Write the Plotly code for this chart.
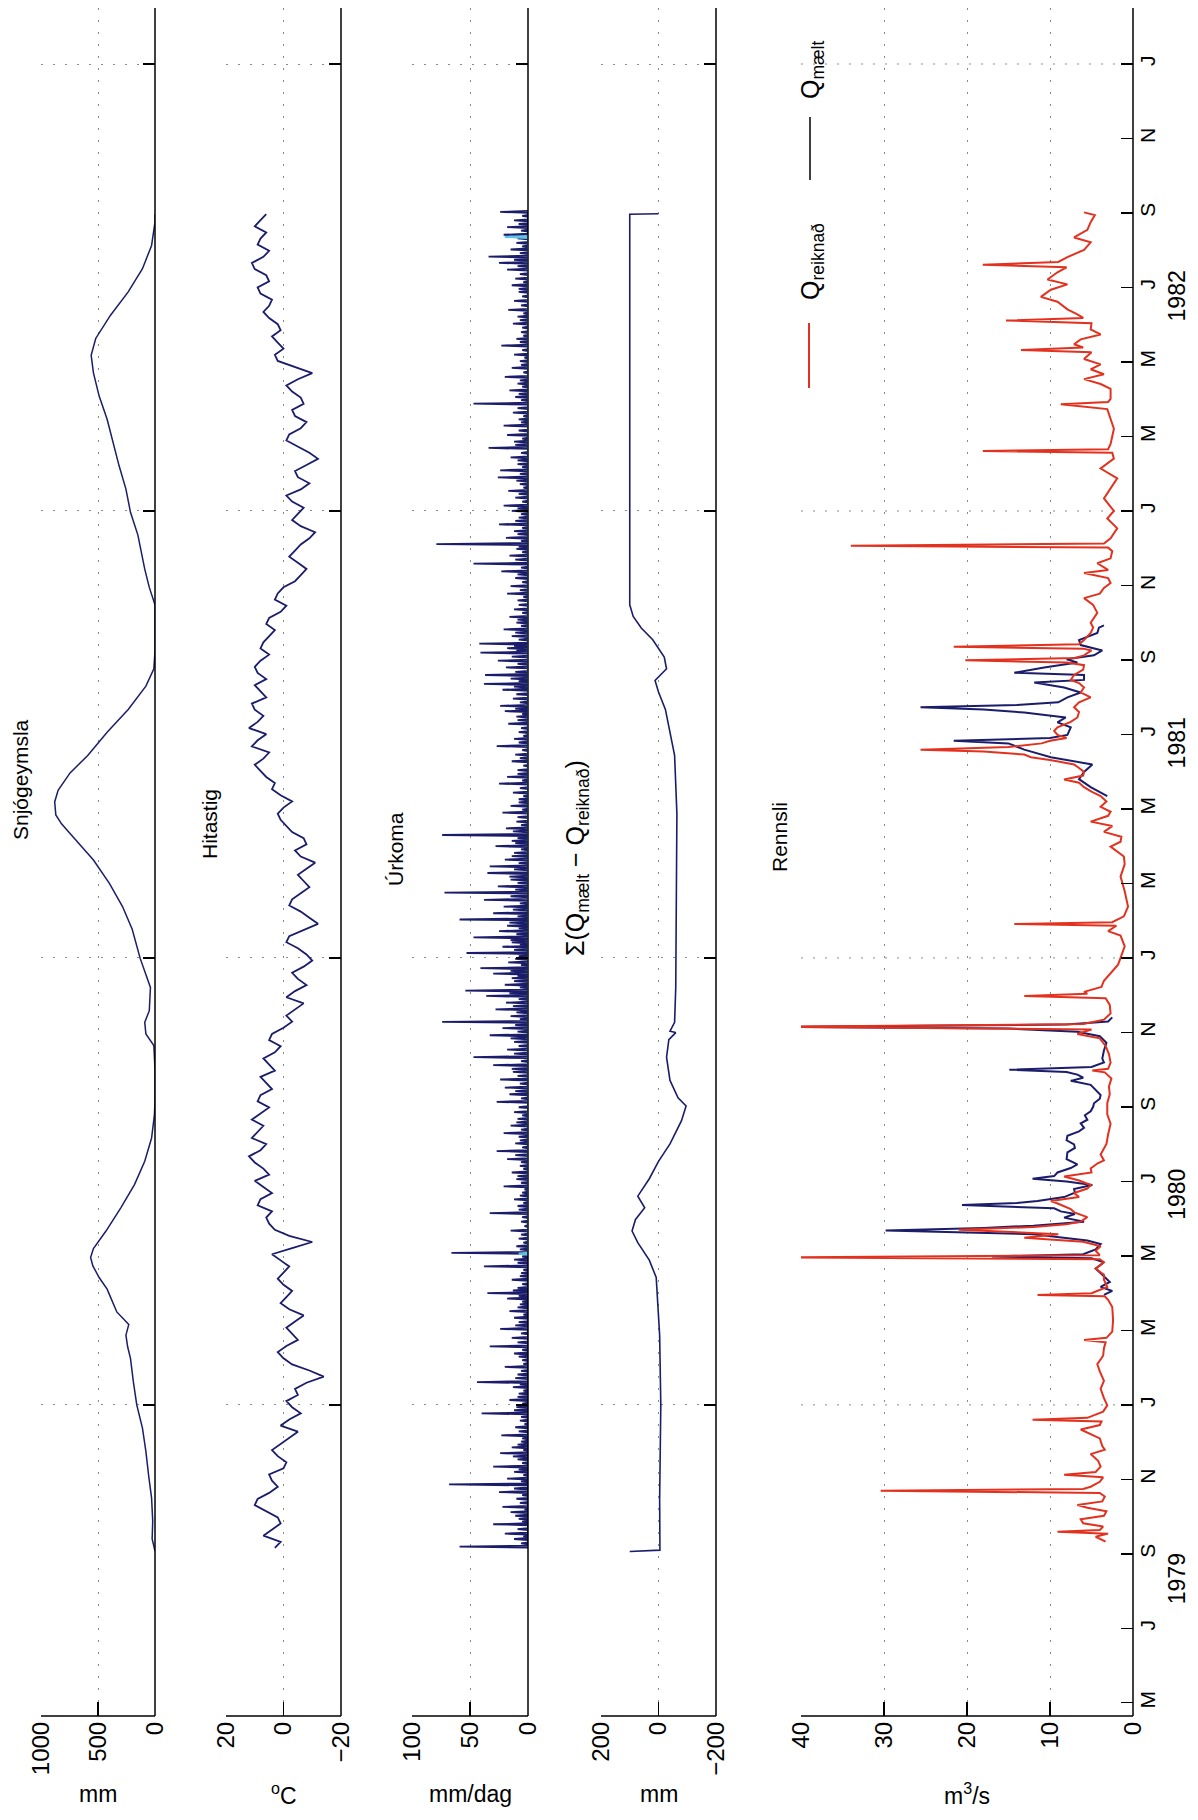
import plotly.graph_objects as go

# ---------------- data (time in decimal years) ----------------
SNOW_T = [1979.673, 1979.70, 1979.74, 1979.792, 1979.84, 1979.896, 1979.948, 1980.000, 1980.052, 1980.104,
          1980.130, 1980.156, 1980.180, 1980.208, 1980.235, 1980.259, 1980.285, 1980.311, 1980.330, 1980.350,
          1980.389, 1980.441, 1980.493, 1980.545, 1980.597, 1980.649, 1980.68, 1980.75, 1980.804, 1980.83,
          1980.856, 1980.882, 1980.934, 1980.999, 1981.064, 1981.115, 1981.167, 1981.219, 1981.271, 1981.300,
          1981.320, 1981.349, 1981.375, 1981.414, 1981.453, 1981.505, 1981.556, 1981.608, 1981.647, 1981.686,
          1981.790, 1981.829, 1981.870, 1981.894, 1981.946, 1981.997, 1982.049, 1982.101, 1982.153, 1982.205,
          1982.257, 1982.309, 1982.348, 1982.386, 1982.438, 1982.490, 1982.542, 1982.594, 1982.646, 1982.664]
SNOW_MM = [0, 25, 20, 30, 55, 80, 110, 160, 190, 215,
           240, 255, 230, 335, 380, 420, 490, 545, 565, 540,
           430, 300, 180, 90, 30, 5, 0, 0, 10, 80,
           90, 50, 40, 130, 200, 285, 400, 540, 720, 820,
           870, 880, 850, 745, 590, 420, 235, 80, 10, 0,
           0, 50, 90, 110, 150, 215, 255, 315, 370, 420,
           490, 540, 560, 520, 390, 235, 110, 30, 0, 0]

TEMP_START = 1979.68
TEMP_STEP = 5 / 365.25
TEMP_C = [3, 1, 7, 4, 1, 2, 6, 10, 9, 5, 2, 4, 5, 0, -1, 2, 4, 1,
          -2, -5, 1, -2, -6, -3, -1, -5, -4, -8, -14, -9, -3, 0, 2, -1, -5, -3, -1, -4, -7, -2, 1, -1, -3, 0,
          2, 0, -2, 1, 4, -3, -10, -2, 3, 5,
          6, 4, 9, 8, 4, 7, 10, 5, 7, 10, 12, 8, 6, 11, 9, 7, 11, 8, 5, 9, 8, 4,
          6, 8, 3, 5, 7, 3, 1, 5, 4, 0, -3, -1,
          -4, -7, -1, -4, -8, -5, -3, -7, -10, -8, -5, -1, -2, -7, -12, -9, -6, -2, -3, -6, -9, -7, -5, -8,
          -11, -6, -4, -8,
          -7, -3, -1, 1, 2, 0, -3, 1, 4, 3,
          6, 8, 10, 7, 5, 11, 9, 6, 12, 9, 7, 10, 11, 6, 8, 10, 6, 9, 10, 8, 5, 8,
          7, 5, 3, 6, 5, 1, -1, 3, 2, 0,
          -4, -6, -8, -5, -2, -4, -6, -9, -11, -6, -3, -5, -7, -3, -1, -6, -9, -5, -4, -8, -12, -9, -5, -1,
          -2, -6, -8, -4, -3, -7, -6, -3,
          -1, -5, -10, -4, 2, 3, 0, 2, 4, 1, 2, 5,
          7, 5, 4, 8, 9, 5, 6, 10, 11, 7, 5, 9, 8, 6, 10, 8, 6]

PRECIP_T = [1979.683, 1979.700, 1979.712, 1979.733, 1979.745, 1979.760, 1979.772, 1979.790, 1979.805, 1979.822,
            1979.835, 1979.850, 1979.862, 1979.878, 1979.892, 1979.905, 1979.918, 1979.932, 1979.950, 1979.965,
            1979.981, 1979.995, 1980.011, 1980.025, 1980.040, 1980.051, 1980.068, 1980.085, 1980.100, 1980.115,
            1980.131, 1980.150, 1980.170, 1980.185, 1980.195, 1980.210, 1980.225, 1980.238, 1980.250, 1980.262,
            1980.280, 1980.295, 1980.310, 1980.325, 1980.340, 1980.355, 1980.372, 1980.390, 1980.410, 1980.429,
            1980.445, 1980.460, 1980.475, 1980.489, 1980.505, 1980.520, 1980.535, 1980.550, 1980.568, 1980.585,
            1980.600, 1980.608, 1980.625, 1980.640, 1980.655, 1980.678, 1980.695, 1980.710, 1980.728, 1980.745,
            1980.760, 1980.778, 1980.795, 1980.812, 1980.827, 1980.843, 1980.857, 1980.870, 1980.885, 1980.900,
            1980.915, 1980.927, 1980.940, 1980.955, 1980.965, 1980.977, 1980.990, 1981.011, 1981.025, 1981.035,
            1981.046, 1981.060, 1981.072, 1981.086, 1981.100, 1981.115, 1981.130, 1981.146, 1981.160, 1981.175,
            1981.190, 1981.205, 1981.220, 1981.235, 1981.250, 1981.262, 1981.275, 1981.290, 1981.305, 1981.325,
            1981.340, 1981.355, 1981.370, 1981.390, 1981.405, 1981.420, 1981.440, 1981.455, 1981.474, 1981.490,
            1981.505, 1981.524, 1981.540, 1981.552, 1981.564, 1981.580, 1981.600, 1981.613, 1981.625, 1981.633,
            1981.650, 1981.665, 1981.683, 1981.693, 1981.703, 1981.720, 1981.735, 1981.750, 1981.763, 1981.780,
            1981.800, 1981.815, 1981.832, 1981.850, 1981.865, 1981.882, 1981.900, 1981.915, 1981.926, 1981.940,
            1981.955, 1981.970, 1981.985, 1982.000, 1982.012, 1982.030, 1982.045, 1982.060, 1982.075, 1982.091,
            1982.105, 1982.120, 1982.141, 1982.155, 1982.170, 1982.191, 1982.205, 1982.220, 1982.240, 1982.255,
            1982.270, 1982.285, 1982.300, 1982.320, 1982.335, 1982.350, 1982.370, 1982.385, 1982.400, 1982.419,
            1982.435, 1982.450, 1982.470, 1982.490, 1982.505, 1982.520, 1982.540, 1982.555, 1982.569, 1982.585,
            1982.600, 1982.618, 1982.635, 1982.650, 1982.669]
PRECIP_MM = [59, 12, 20, 30, 8, 15, 22, 10, 25, 68,
             18, 12, 30, 9, 24, 14, 6, 23, 11, 7,
             40, 10, 16, 8, 13, 44, 9, 20, 5, 12,
             33, 14, 24, 8, 12, 16, 7, 18, 35, 9,
             14, 6, 38, 12, 66, 10, 8, 15, 6, 33,
             9, 12, 5, 21, 10, 14, 7, 18, 27, 11,
             8, 21, 15, 9, 12, 27, 16, 20, 24, 13,
             30, 47, 18, 12, 33, 22, 74, 15, 28, 19,
             36, 54, 20, 14, 30, 41, 17, 53, 22, 14,
             47, 25, 18, 59, 30, 21, 38, 72, 26, 15,
             35, 33, 20, 12, 28, 14, 74, 19, 10, 22,
             15, 8, 13, 25, 18, 9, 14, 11, 27, 12,
             8, 17, 10, 20, 24, 13, 22, 38, 15, 37,
             19, 26, 41, 18, 42, 14, 21, 10, 16, 12,
             9, 18, 15, 11, 23, 47, 16, 10, 79, 19,
             12, 25, 8, 14, 21, 11, 17, 7, 26, 24,
             9, 15, 34, 12, 18, 21, 8, 13, 47, 11,
             16, 9, 20, 14, 7, 12, 23, 10, 6, 13,
             9, 17, 12, 8, 14, 11, 18, 25, 34, 15,
             10, 21, 18, 12, 24]
# smaller rain days between the larger events
PRECIP_SMALL_T = [1979.690, 1979.706, 1979.722, 1979.739, 1979.752, 1979.766, 1979.781, 1979.798, 1979.813, 1979.829,
                  1979.843, 1979.856, 1979.870, 1979.885, 1979.899, 1979.911, 1979.925, 1979.941, 1979.957, 1979.973,
                  1979.988, 1980.003, 1980.018, 1980.032, 1980.046, 1980.060, 1980.076, 1980.092, 1980.108, 1980.123,
                  1980.140, 1980.160, 1980.178, 1980.202, 1980.218, 1980.231, 1980.244, 1980.256, 1980.270, 1980.288,
                  1980.302, 1980.318, 1980.332, 1980.348, 1980.363, 1980.381, 1980.400, 1980.420, 1980.437, 1980.452,
                  1980.468, 1980.482, 1980.497, 1980.512, 1980.528, 1980.543, 1980.559, 1980.576, 1980.592, 1980.616,
                  1980.632, 1980.648, 1980.666, 1980.686, 1980.702, 1980.719, 1980.736, 1980.752, 1980.769, 1980.786,
                  1980.803, 1980.820, 1980.835, 1980.850, 1980.863, 1980.878, 1980.892, 1980.908, 1980.921, 1980.934,
                  1980.948, 1980.960, 1980.971, 1980.984, 1980.998, 1981.004, 1981.018, 1981.030, 1981.040, 1981.053,
                  1981.066, 1981.079, 1981.093, 1981.108, 1981.122, 1981.138, 1981.153, 1981.168, 1981.182, 1981.198,
                  1981.212, 1981.228, 1981.243, 1981.257, 1981.268, 1981.283, 1981.297, 1981.315, 1981.332, 1981.348,
                  1981.362, 1981.380, 1981.397, 1981.412, 1981.430, 1981.447, 1981.465, 1981.482, 1981.497, 1981.514,
                  1981.532, 1981.546, 1981.558, 1981.572, 1981.590, 1981.607, 1981.619, 1981.640, 1981.658, 1981.674,
                  1981.688, 1981.698, 1981.712, 1981.728, 1981.743, 1981.757, 1981.772, 1981.790, 1981.808, 1981.823,
                  1981.841, 1981.858, 1981.873, 1981.891, 1981.908, 1981.920, 1981.933, 1981.948, 1981.962, 1981.978,
                  1981.993, 1982.006, 1982.021, 1982.038, 1982.052, 1982.068, 1982.083, 1982.098, 1982.113, 1982.130,
                  1982.148, 1982.162, 1982.180, 1982.198, 1982.212, 1982.230, 1982.248, 1982.262, 1982.278, 1982.292,
                  1982.310, 1982.327, 1982.343, 1982.360, 1982.378, 1982.392, 1982.410, 1982.427, 1982.442, 1982.460,
                  1982.480, 1982.497, 1982.512, 1982.530, 1982.548, 1982.562, 1982.577, 1982.592, 1982.610, 1982.627,
                  1982.642, 1982.660]
PRECIP_SMALL_MM = [6, 4, 9, 5, 11, 3, 7, 5, 12, 6,
                   4, 8, 5, 13, 4, 9, 5, 8, 3, 6,
                   12, 5, 9, 4, 7, 11, 6, 4, 8, 5,
                   9, 6, 11, 4, 9, 5, 8, 13, 5, 7,
                   4, 9, 5, 7, 4, 6, 3, 5, 8, 4,
                   7, 3, 6, 9, 4, 6, 11, 5, 7, 6,
                   10, 5, 8, 6, 11, 7, 9, 14, 6, 12,
                   8, 15, 9, 11, 7, 10, 13, 8, 16, 7,
                   12, 9, 15, 6, 11, 8, 12, 7, 15, 10,
                   8, 16, 9, 13, 7, 15, 11, 9, 16, 12,
                   8, 14, 6, 11, 9, 13, 6, 9, 5, 8,
                   4, 7, 5, 9, 4, 7, 5, 8, 4, 6,
                   9, 5, 11, 7, 10, 12, 8, 11, 9, 14,
                   10, 12, 8, 11, 6, 9, 5, 8, 4, 7,
                   5, 9, 6, 11, 5, 8, 6, 9, 5, 11,
                   6, 9, 5, 8, 4, 10, 7, 5, 9, 6,
                   11, 5, 8, 6, 4, 9, 6, 8, 5, 7,
                   4, 6, 3, 5, 7, 4, 5, 7, 4, 6,
                   5, 8, 4, 7, 9, 12, 7, 5, 9, 6,
                   8, 5]
PRECIP_CYAN_T = [1982.613, 1980.338]
PRECIP_CYAN_MM = [20, 8]

CUM_T = [1979.672, 1979.675, 1979.79, 1980.000, 1980.156, 1980.285, 1980.324, 1980.363, 1980.389, 1980.415,
         1980.441, 1980.467, 1980.506, 1980.545, 1980.584, 1980.636, 1980.669, 1980.687, 1980.726, 1980.778,
         1980.817, 1980.833, 1980.836, 1980.856, 1980.934, 1981.323, 1981.453, 1981.505, 1981.556, 1981.595,
         1981.621, 1981.647, 1981.673, 1981.712, 1981.738, 1981.764, 1981.790, 1982.664, 1982.665]
CUM_MM = [100, -5, -4, -8, -4, 8, 32, 72, 92, 80,
          48, 72, 32, 0, -40, -80, -96, -68, -40, -28,
          -36, -60, -40, -56, -60, -64, -56, -40, -24, 0,
          12, -28, -20, 20, 60, 88, 100, 100, 0]

QCALC_T = [1979.694, 1979.705, 1979.712, 1979.716, 1979.720, 1979.728, 1979.735, 1979.744, 1979.752, 1979.762,
           1979.770, 1979.776, 1979.784, 1979.795, 1979.803, 1979.808, 1979.812, 1979.817, 1979.828, 1979.838,
           1979.844, 1979.850, 1979.862, 1979.875, 1979.890, 1979.900, 1979.908, 1979.925, 1979.945, 1979.955,
           1979.963, 1979.967, 1979.971, 1979.985, 1979.999, 1980.015, 1980.036, 1980.054, 1980.075, 1980.091,
           1980.110, 1980.127, 1980.140, 1980.145, 1980.150, 1980.164, 1980.190, 1980.219, 1980.235, 1980.243,
           1980.246, 1980.250, 1980.264, 1980.280, 1980.291, 1980.305, 1980.319, 1980.326, 1980.330, 1980.335,
           1980.345, 1980.355, 1980.365, 1980.374, 1980.382, 1980.392, 1980.398, 1980.404, 1980.410, 1980.420,
           1980.430, 1980.438, 1980.450, 1980.456, 1980.465, 1980.474, 1980.484, 1980.492, 1980.502, 1980.511,
           1980.520, 1980.529, 1980.540, 1980.547, 1980.560, 1980.584, 1980.605, 1980.629, 1980.650, 1980.675,
           1980.695, 1980.712, 1980.730, 1980.744, 1980.748, 1980.752, 1980.766, 1980.785, 1980.803, 1980.820,
           1980.830, 1980.840, 1980.846, 1980.852, 1980.862, 1980.876, 1980.895, 1980.910, 1980.915, 1980.920,
           1980.924, 1980.935, 1980.949, 1980.970, 1980.985, 1981.000, 1981.026, 1981.050, 1981.060, 1981.072,
           1981.076, 1981.080, 1981.093, 1981.115, 1981.149, 1981.182, 1981.210, 1981.227, 1981.249, 1981.260,
           1981.271, 1981.282, 1981.295, 1981.305, 1981.318, 1981.327, 1981.338, 1981.350, 1981.362, 1981.372,
           1981.382, 1981.392, 1981.399, 1981.408, 1981.416, 1981.425, 1981.433, 1981.443, 1981.449, 1981.455,
           1981.462, 1981.466, 1981.472, 1981.480, 1981.486, 1981.492, 1981.499, 1981.508, 1981.516, 1981.528,
           1981.538, 1981.550, 1981.561, 1981.572, 1981.583, 1981.594, 1981.605, 1981.615, 1981.622, 1981.633,
           1981.645, 1981.655, 1981.661, 1981.666, 1981.671, 1981.677, 1981.688, 1981.692, 1981.696, 1981.702,
           1981.711, 1981.727, 1981.739, 1981.750, 1981.772, 1981.790, 1981.805, 1981.815, 1981.828, 1981.839,
           1981.850, 1981.861, 1981.868, 1981.883, 1981.894, 1981.910, 1981.918, 1981.922, 1981.927, 1981.939,
           1981.961, 1981.983, 1982.000, 1982.028, 1982.050, 1982.073, 1982.095, 1982.117, 1982.130, 1982.134,
           1982.138, 1982.150, 1982.184, 1982.206, 1982.228, 1982.239, 1982.244, 1982.251, 1982.273, 1982.284,
           1982.295, 1982.306, 1982.317, 1982.328, 1982.340, 1982.355, 1982.360, 1982.366, 1982.373, 1982.384,
           1982.395, 1982.406, 1982.420, 1982.426, 1982.432, 1982.440, 1982.451, 1982.468, 1982.479, 1982.495,
           1982.507, 1982.518, 1982.534, 1982.545, 1982.551, 1982.557, 1982.568, 1982.584, 1982.601, 1982.612,
           1982.629, 1982.646, 1982.662, 1982.668]
QCALC = [3.3, 4.5, 3.0, 9.1, 4.0, 3.6, 6.0, 6.3, 3.5, 3.2,
         5.5, 6.7, 3.7, 3.4, 4.0, 30.4, 6.0, 5.1, 4.0, 3.6,
         8.3, 4.5, 3.9, 4.2, 5.1, 3.4, 3.7, 4.0, 6.3, 4.0,
         3.8, 12.1, 5.5, 3.6, 3.1, 3.5, 3.9, 3.5, 4.0, 4.3,
         3.6, 3.5, 3.3, 5.9, 3.2, 2.5, 2.4, 2.5, 3.0, 3.4,
         11.5, 5.0, 3.1, 3.5, 3.5, 4.5, 3.5, 4.0, 42.0, 4.0,
         4.5, 3.9, 6.0, 13.1, 9.0, 21.0, 12.0, 8.0, 6.3, 5.5,
         7.0, 7.5, 9.0, 9.9, 6.5, 7.1, 5.5, 5.1, 6.5, 8.3,
         5.0, 5.1, 4.3, 3.5, 3.9, 3.2, 3.0, 2.7, 3.1, 3.1,
         2.8, 2.9, 2.6, 3.4, 4.9, 3.0, 2.7, 2.9, 3.3, 4.0,
         6.7, 5.0, 42.0, 6.0, 3.5, 2.7, 2.8, 3.3, 13.1, 5.5,
         5.9, 3.8, 3.5, 2.5, 1.8, 1.5, 1.0, 1.5, 3.0, 2.0,
         14.3, 2.5, 1.1, 0.6, 1.0, 1.5, 1.0, 1.1, 2.7, 1.5,
         1.4, 3.5, 2.5, 5.1, 3.0, 2.7, 3.9, 3.2, 3.9, 5.0,
         5.9, 6.5, 8.3, 6.0, 5.9, 6.5, 7.1, 10.0, 12.3, 13.1,
         18.0, 25.6, 15.0, 11.0, 10.0, 8.0, 9.1, 9.5, 9.1, 7.5,
         6.7, 6.5, 7.1, 6.5, 5.1, 6.3, 5.9, 6.5, 7.5, 7.1,
         6.0, 5.9, 8.0, 20.2, 7.0, 5.9, 5.0, 6.0, 21.6, 6.5,
         5.9, 5.1, 4.8, 5.1, 4.3, 4.8, 5.9, 4.0, 3.5, 2.7,
         3.0, 5.9, 3.0, 4.3, 2.7, 2.5, 3.0, 34.0, 3.5, 2.7,
         1.9, 3.1, 2.3, 3.5, 2.7, 1.9, 3.9, 2.3, 2.5, 18.1,
         3.0, 2.7, 2.3, 2.7, 3.1, 8.7, 3.0, 2.7, 2.7, 3.9,
         5.9, 3.5, 5.1, 3.9, 5.9, 5.0, 13.5, 6.0, 7.1, 6.3,
         3.9, 5.1, 5.0, 15.3, 6.0, 6.7, 7.9, 9.1, 11.1, 9.9,
         7.9, 10.3, 9.1, 8.0, 18.1, 9.0, 7.9, 5.9, 5.1, 7.1,
         5.5, 5.1, 4.6, 5.9]

QMEAS_T = [1980.246, 1980.255, 1980.264, 1980.275, 1980.291, 1980.305, 1980.319, 1980.328, 1980.332, 1980.337,
           1980.348, 1980.360, 1980.368, 1980.375, 1980.382, 1980.390, 1980.396, 1980.401, 1980.410, 1980.419,
           1980.427, 1980.433, 1980.440, 1980.447, 1980.452, 1980.456, 1980.465, 1980.475, 1980.483, 1980.492,
           1980.500, 1980.506, 1980.512, 1980.520, 1980.530, 1980.538, 1980.550, 1980.565, 1980.575, 1980.583,
           1980.592, 1980.602, 1980.612, 1980.620, 1980.630, 1980.638, 1980.648, 1980.657, 1980.667, 1980.675,
           1980.685, 1980.693, 1980.705, 1980.716, 1980.725, 1980.732, 1980.739, 1980.745, 1980.750, 1980.756,
           1980.766, 1980.775, 1980.793, 1980.810, 1980.825, 1980.835, 1980.842, 1980.846, 1980.851, 1980.858,
           1980.867, None,
           1981.362, 1981.382, 1981.400, 1981.416, 1981.433, 1981.449, 1981.466, 1981.480, 1981.486, 1981.492,
           1981.499, 1981.516, 1981.527, 1981.538, 1981.549, 1981.556, 1981.561, 1981.566, 1981.572, 1981.583,
           1981.594, 1981.605, 1981.616, 1981.622, 1981.633, 1981.638, 1981.650, 1981.661, 1981.668, 1981.677,
           1981.688, 1981.700, 1981.711, 1981.727, 1981.739, 1981.744]
QMEAS = [3.5, 2.5, 3.9, 2.8, 3.7, 4.5, 3.5, 5.0, 17.0, 6.0,
         4.5, 3.9, 5.5, 8.7, 12.0, 29.8, 18.0, 12.0, 5.9, 8.3,
         7.0, 8.7, 9.5, 20.6, 14.0, 11.5, 8.3, 7.0, 7.1, 4.9,
         8.0, 12.1, 9.5, 9.1, 7.5, 6.7, 8.0, 7.9, 7.0, 7.1,
         8.0, 7.9, 6.5, 5.9, 6.3, 5.5, 5.8, 5.1, 4.8, 4.7,
         4.0, 3.9, 4.5, 5.1, 7.5, 6.0, 6.7, 8.0, 14.9, 5.0,
         3.5, 3.7, 3.5, 3.2, 4.0, 6.7, 15.0, 42.0, 8.0, 3.0,
         2.5, None,
         3.1, 5.1, 6.5, 5.9, 4.9, 9.9, 13.1, 15.0, 21.6, 10.0,
         7.9, 7.5, 9.1, 8.1, 13.1, 18.0, 25.6, 14.0, 9.0, 7.9,
         6.3, 8.3, 11.9, 5.9, 5.9, 14.3, 10.7, 6.7, 8.0, 4.7,
         3.7, 6.3, 6.5, 4.3, 4.1, 3.5]

MONTH_TICKS = [(1979, 5, "M"), (1979, 7, "J"), (1979, 9, "S"), (1979, 11, "N"),
               (1980, 1, "J"), (1980, 3, "M"), (1980, 5, "M"), (1980, 7, "J"), (1980, 9, "S"), (1980, 11, "N"),
               (1981, 1, "J"), (1981, 3, "M"), (1981, 5, "M"), (1981, 7, "J"), (1981, 9, "S"), (1981, 11, "N"),
               (1982, 1, "J"), (1982, 3, "M"), (1982, 5, "M"), (1982, 7, "J"), (1982, 9, "S"), (1982, 11, "N"),
               (1983, 1, "J")]
YEAR_LABELS = [(1979.61, "1979"), (1980.47, "1980"), (1981.48, "1981"), (1982.48, "1982")]
JAN_LINES = [1980, 1981, 1982, 1983]

# ---------------- styling / layout ----------------
OFF = 8                      # page body margin of the browser
W, H = 1198 - 2 * OFF, 1820 - 2 * OFF
FONT = "Liberation Sans, Arial, sans-serif"
NAVY = "#1b1d6b"
RED = "#e2321f"
GRID = "#8a8a8a"
DASH = "2px,10px"


def PX(x):
    return (x - OFF) / W


def PY(y):
    return 1 - (y - OFF) / H


Y_DOM = [PY(1716), 1.0]
T_RANGE = [1979.304, 1980 + (1405 - OFF) / 447]

panels = [  # (left px, right px, range, tickvals, unit)
    (41, 155, [1000, 0], [0, 500, 1000], "mm"),
    (226, 341, [20, -20], [-20, 0, 20], "<sup>o</sup>C"),
    (412, 528, [100, 0], [0, 50, 100], "mm/dag"),
    (601, 716, [200, -200], [-200, 0, 200], "mm"),
    (801, 1133, [40, 0], [0, 10, 20, 30, 40], "m<sup>3</sup>/s"),
]

fig = go.Figure()

fig.add_trace(go.Scatter(x=SNOW_MM, y=SNOW_T, mode="lines", line=dict(color=NAVY, width=1.5),
                         xaxis="x", yaxis="y", showlegend=False))
temp_t = [TEMP_START + i * TEMP_STEP for i in range(len(TEMP_C))]
fig.add_trace(go.Scatter(x=TEMP_C, y=temp_t, mode="lines", line=dict(color=NAVY, width=1.8),
                         xaxis="x2", yaxis="y2", showlegend=False))


def spikes(ts, vs, half=0.0022):
    xs, ys = [], []
    for t, v in zip(ts, vs):
        xs += [0, v, 0]
        ys += [t - half, t, t + half]
    return xs, ys


sx_, sy_ = spikes(PRECIP_SMALL_T, PRECIP_SMALL_MM)
fig.add_trace(go.Scatter(x=sx_, y=sy_, mode="lines", line=dict(color=NAVY, width=1.8),
                         xaxis="x3", yaxis="y3", showlegend=False))
px_, py_ = spikes(PRECIP_T, PRECIP_MM)
fig.add_trace(go.Scatter(x=px_, y=py_, mode="lines", line=dict(color=NAVY, width=1.8),
                         xaxis="x3", yaxis="y3", showlegend=False))
cx_, cy_ = spikes(PRECIP_CYAN_T, PRECIP_CYAN_MM)
fig.add_trace(go.Scatter(x=cx_, y=cy_, mode="lines", line=dict(color="#5fc3e4", width=2),
                         xaxis="x3", yaxis="y3", showlegend=False))
fig.add_trace(go.Scatter(x=CUM_MM, y=CUM_T, mode="lines", line=dict(color=NAVY, width=1.6),
                         xaxis="x4", yaxis="y4", showlegend=False))
fig.add_trace(go.Scatter(x=QMEAS, y=QMEAS_T, mode="lines", line=dict(color=NAVY, width=2),
                         connectgaps=False, xaxis="x5", yaxis="y5", showlegend=False))
fig.add_trace(go.Scatter(x=QCALC, y=QCALC_T, mode="lines", line=dict(color=RED, width=2),
                         xaxis="x5", yaxis="y5", showlegend=False))

layout = dict(width=W, height=H, margin=dict(l=0, r=0, t=0, b=0, pad=0, autoexpand=False),
              paper_bgcolor="white", plot_bgcolor="white", dragmode=False, hovermode=False,
              font=dict(family=FONT, color="black"), showlegend=False)

month_vals = [y + (m - 1) / 12 for y, m, _ in MONTH_TICKS]
month_text = [lab for _, _, lab in MONTH_TICKS]

annotations = []
shapes = []
for i, (l, r, rng, tv, unit) in enumerate(panels, start=1):
    xs = "" if i == 1 else str(i)
    layout["xaxis" + xs] = dict(
        domain=[PX(l), PX(r)], anchor="y" + xs, range=rng, tickvals=tv,
        ticks="inside", ticklen=14, tickwidth=1.2, tickcolor="black", tickangle=-90,
        tickfont=dict(size=24), showline=False, mirror=False, automargin=False, fixedrange=True,
        showgrid=True, gridcolor=GRID, griddash=DASH, gridwidth=1, zeroline=False)
    ya = dict(domain=Y_DOM, anchor="x" + xs, range=T_RANGE, side="right",
              showline=False, mirror=False, automargin=False, fixedrange=True,
              zeroline=False, ticks="inside", ticklen=12, tickwidth=1.2, tickcolor="black")
    if i < 5:
        ya.update(tickmode="linear", tick0=1980, dtick=1, showticklabels=False,
                  showgrid=True, gridcolor=GRID, griddash=DASH, gridwidth=1)
    else:
        ya.update(tickmode="array", tickvals=month_vals, ticktext=month_text, tickangle=-90,
                  tickfont=dict(size=21), showgrid=False)
    layout["yaxis" + xs] = ya
    # bottom (value) axis line and right (time) axis line
    shapes.append(dict(type="line", xref="x" + xs + " domain", yref="paper", x0=0, x1=1,
                       y0=Y_DOM[0], y1=Y_DOM[0], line=dict(color="black", width=1.5)))
    shapes.append(dict(type="line", xref="x" + xs + " domain", yref="paper", x0=1, x1=1,
                       y0=Y_DOM[0], y1=Y_DOM[1], line=dict(color="black", width=1.5)))
    annotations.append(dict(text=unit, x=PX((l + r) / 2), y=PY(1794),
                            xref="paper", yref="paper", showarrow=False,
                            font=dict(size=23), xanchor="center", yanchor="middle"))

for yr in JAN_LINES:
    shapes.append(dict(type="line", xref="x5 domain", yref="y5", x0=0, x1=1, y0=yr, y1=yr,
                       line=dict(color=GRID, width=1, dash=DASH), layer="below"))

# legend (rotated)
shapes.append(dict(type="line", xref="paper", yref="paper", x0=PX(809), x1=PX(809),
                   y0=PY(388), y1=PY(323), line=dict(color=RED, width=2)))
shapes.append(dict(type="line", xref="paper", yref="paper", x0=PX(810), x1=PX(810),
                   y0=PY(180), y1=PY(117), line=dict(color="black", width=1.5)))


def rot(text, xpx, ypx, size=21):
    return dict(text=text, x=PX(xpx), y=PY(ypx), xref="paper", yref="paper",
                showarrow=False, textangle=-90, font=dict(size=size),
                xanchor="center", yanchor="middle")


annotations += [
    rot("Snjógeymsla", 20, 780),
    rot("Hitastig", 209, 824),
    rot("Úrkoma", 395, 849),
    rot("Σ(Q<sub>mælt</sub> − Q<sub>reiknað</sub>)", 577, 858, 25),
    rot("Rennsli", 780, 837),
    rot("Q<sub>reiknað</sub>", 812, 262, 25),
    rot("Q<sub>mælt</sub>", 812, 70, 25),
]
for t, lab in YEAR_LABELS:
    annotations.append(dict(text=lab, x=PX(1177), y=t, xref="paper", yref="y5", showarrow=False,
                            textangle=-90, font=dict(size=23), xanchor="center", yanchor="middle"))

layout["annotations"] = annotations
layout["shapes"] = shapes
fig.update_layout(**layout)

fig.write_html("out.html", config={"staticPlot": True, "displayModeBar": False})
